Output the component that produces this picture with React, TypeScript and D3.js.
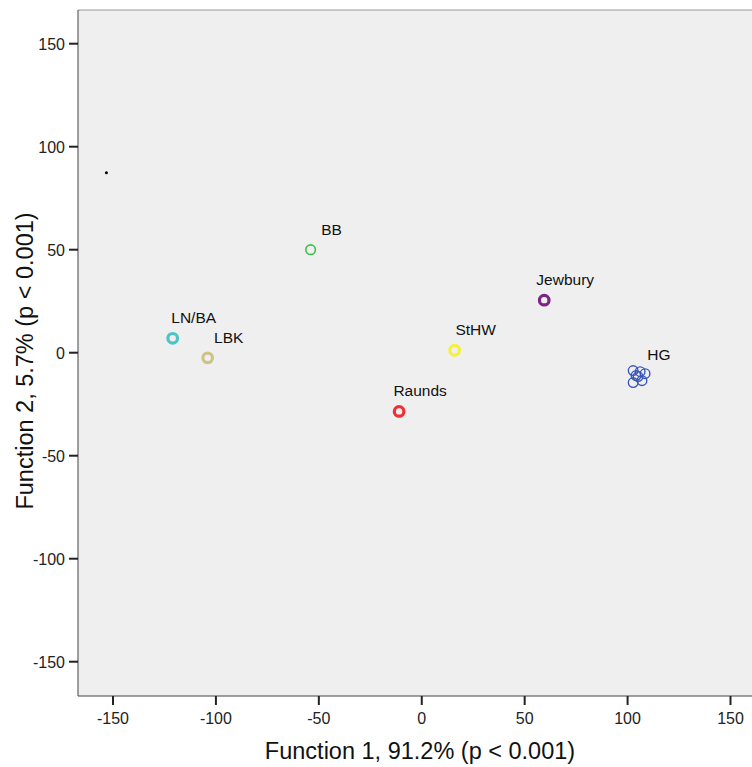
import React from "react";
import * as d3 from "d3";

const groups = ["LN/BA", "LBK", "BB", "Raunds", "StHW", "Jewbury", "HG"];
const groupColors = ["#4cc4c6", "#cdc48a", "#3fbf4a", "#ee2f36", "#f4f03c", "#7b2584", "#3b58b8"];
const groupStroke = [3.2, 3.2, 1.6, 3.2, 3.2, 3.2, 1.4];
const groupX = [-121, -104, -54, -11, 16, 59.5, 105];
const groupY = [7, -2.5, 50, -28.5, 1.2, 25.5, -11];

const hgX = [102.7, 106.1, 108.5, 104.1, 102.7, 107.0, 105.1];
const hgY = [-8.7, -9.2, -10.2, -11.1, -14.5, -13.6, -11.6];

const centroidX = [-153.2];
const centroidY = [87.3];

const xTicks = [-150, -100, -50, 0, 50, 100, 150];
const yTicks = [150, 100, 50, 0, -50, -100, -150];

const xTitle = "Function 1, 91.2% (p < 0.001)";
const yTitle = "Function 2, 5.7% (p < 0.001)";

export default function App() {
  const W = 752, H = 767;
  const left = 78, top = 10, right = 752, bottom = 696;
  const x = d3.scaleLinear().domain([-150, 150]).range([113, 730.5]);
  const y = d3.scaleLinear().domain([-150, 150]).range([661.7, 43.7]);
  const font = "Arial, 'Liberation Sans', sans-serif";
  return (
    <svg width={W} height={H} style={{ position: "absolute", left: 0, top: 0 }}>
      <rect x={left} y={top} width={right - left} height={bottom - top} fill="#efefef" />
      <line x1={left} x2={right} y1={top} y2={top} stroke="#999" strokeWidth={1} />
      <line x1={left} x2={right} y1={bottom} y2={bottom} stroke="#444" strokeWidth={1} />
      <line x1={left} x2={left} y1={top} y2={bottom} stroke="#444" strokeWidth={1} />
      {xTicks.map((t) => (
        <g key={"x" + t}>
          <line x1={x(t)} x2={x(t)} y1={bottom} y2={bottom + 9} stroke="#222" strokeWidth={2} />
          <text x={x(t)} y={bottom + 28} textAnchor="middle" fontFamily={font} fontSize={16} fill="#222">{t}</text>
        </g>
      ))}
      {yTicks.map((t) => (
        <g key={"y" + t}>
          <line x1={left - 9} x2={left} y1={y(t)} y2={y(t)} stroke="#222" strokeWidth={2} />
          <text x={left - 13} y={y(t) + 6} textAnchor="end" fontFamily={font} fontSize={16} fill="#222">{t}</text>
        </g>
      ))}
      <text x={420} y={759} textAnchor="middle" fontFamily={font} fontSize={23.5} fill="#111">{xTitle}</text>
      <text transform={`translate(33,361) rotate(-90)`} textAnchor="middle" fontFamily={font} fontSize={23.5} fill="#111">{yTitle}</text>
      {centroidX.map((cx, i) => (
        <circle key={"c" + i} cx={x(cx)} cy={y(centroidY[i])} r={1.5} fill="#000" />
      ))}
      {groups.map((g, i) => g === "HG" ? null : (
        <circle key={"g" + i} cx={x(groupX[i])} cy={y(groupY[i])} r={4.8} fill="none" stroke={groupColors[i]} strokeWidth={groupStroke[i]} />
      ))}
      {hgX.map((hx, i) => (
        <circle key={"h" + i} cx={x(hx)} cy={y(hgY[i])} r={4.8} fill="none" stroke={groupColors[6]} strokeWidth={1.4} />
      ))}
      {groups.map((g, i) => (
        <text key={"l" + i} x={x(groupX[i]) + 21} y={y(groupY[i]) - 15} textAnchor="middle" fontFamily={font} fontSize={15.5} fill="#111">{g}</text>
      ))}
    </svg>
  );
}
